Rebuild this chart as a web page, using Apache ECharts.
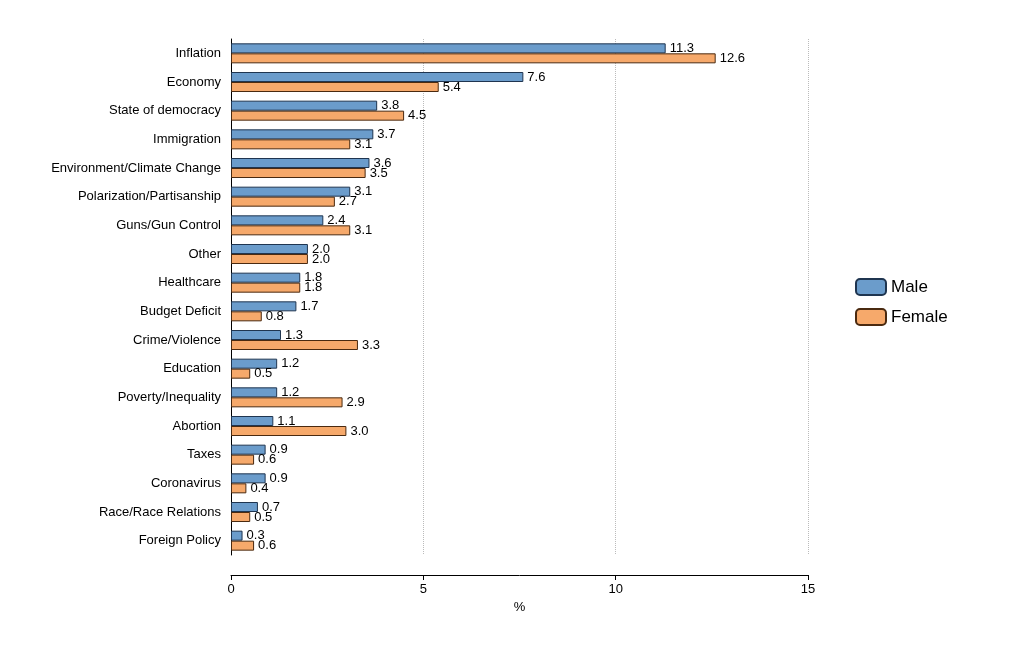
<!DOCTYPE html><html><head><meta charset="utf-8"><script src="https://cdn.jsdelivr.net/npm/echarts@6/dist/echarts.min.js"></script></head><body style="margin:0;background:#fff"><div id="c" style="width:1024px;height:658px"></div><script>
const categories=["Inflation","Economy","State of democracy","Immigration","Environment/Climate Change","Polarization/Partisanship","Guns/Gun Control","Other","Healthcare","Budget Deficit","Crime/Violence","Education","Poverty/Inequality","Abortion","Taxes","Coronavirus","Race/Race Relations","Foreign Policy"];
const male=[11.3,7.6,3.8,3.7,3.6,3.1,2.4,2.0,1.8,1.7,1.3,1.2,1.2,1.1,0.9,0.9,0.7,0.3];
const female=[12.6,5.4,4.5,3.1,3.5,2.7,3.1,2.0,1.8,0.8,3.3,0.5,2.9,3.0,0.6,0.4,0.5,0.6];
const xTicks=[0,5,10,15];
const ch=echarts.init(document.getElementById('c'));
const lbl={show:true,position:'right',distance:4,color:'#000',fontSize:13,fontFamily:'Liberation Sans',formatter:p=>p.value.toFixed(1)};
ch.setOption({
 animation:false,
 textStyle:{fontFamily:'Liberation Sans'},
 grid:{left:231,right:216,top:39,bottom:103},
 legend:{orient:'vertical',left:850,top:273,itemWidth:30,itemHeight:16,itemGap:12,textStyle:{fontSize:17,color:'#000'},data:['Male','Female']},
 xAxis:{type:'value',min:0,max:15,interval:5,offset:20,name:'%',nameLocation:'middle',nameGap:24,nameTextStyle:{fontSize:13,color:'#000'},
  axisLine:{show:true,lineStyle:{color:'#000'}},axisTick:{show:true,length:5,lineStyle:{color:'#000'}},axisLabel:{color:'#000',fontSize:13,formatter:v=>xTicks.includes(v)?String(v):''},
  splitLine:{show:true,lineStyle:{type:'dotted',color:'#bbb'}}},
 yAxis:{type:'category',inverse:true,data:categories,axisLine:{show:true,lineStyle:{color:'#000'}},axisTick:{show:false},axisLabel:{color:'#000',fontSize:13,margin:10}},
 series:[
  {name:'Male',type:'bar',data:male,barWidth:10,barGap:'0%',itemStyle:{color:'#6b9ccb',borderColor:'#1f3550',borderWidth:1},label:lbl},
  {name:'Female',type:'bar',data:female,barWidth:10,itemStyle:{color:'#f6a96b',borderColor:'#4a2a10',borderWidth:1},label:lbl}
 ]
});
</script></body></html>
